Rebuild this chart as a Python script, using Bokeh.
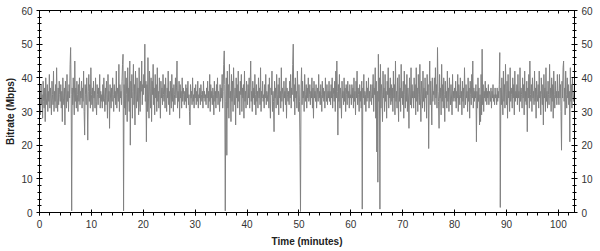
from bokeh.plotting import figure
from bokeh.models import Range1d, LinearAxis, SingleIntervalTicker, ColumnDataSource, CustomJSTickFormatter
from bokeh.embed import file_html
from bokeh.resources import INLINE

# Sampling interval of the bitrate trace (minutes); one row = 4 minutes
sample_step_min = 0.1
row_span_min = 4

# Bitrate samples (Mbps)
bitrate_rows = [
    [30, 36, 29, 38, 32, 35, 28, 39, 33, 31, 37, 27, 40, 34, 32, 38, 30, 36, 33, 41,
     31, 37, 34, 29, 39, 35, 32, 42, 30, 36, 33, 38, 31, 43, 34, 30, 37, 32, 39, 35],
    [33, 38, 31, 36, 27, 40, 34, 32, 37, 26, 39, 35, 31, 41, 33, 36, 30, 38, 34, 44,
     49, 35, 0.5, 37, 32, 40, 34, 29, 45, 33, 37, 31, 39, 35, 30, 38, 33, 40, 32, 36],
    [34, 39, 31, 37, 33, 42, 30, 23, 38, 35, 32, 40, 34, 21.5, 36, 41, 33, 38, 31, 43,
     35, 32, 37, 30, 39, 34, 36, 31, 40, 33, 29, 38, 35, 32, 37, 34, 41, 31, 36, 33],
    [35, 31, 38, 33, 40, 34, 30, 37, 32, 39, 35, 28, 41, 33, 36, 25, 38, 34, 31, 37,
     33, 40, 35, 30, 38, 34, 36, 32, 42, 31, 37, 35, 33, 44, 30, 38, 34, 36, 32, 39],
    [44, 47, 0.5, 38, 31, 42, 29, 40, 35, 27, 43, 33, 37, 30, 45, 20, 39, 34, 41, 28,
     36, 44, 32, 38, 26, 42, 35, 31, 40, 33, 37, 29, 43, 34, 30, 39, 36, 45, 32, 38],
    [35, 41, 37, 50, 33, 39, 21, 38, 30, 46, 34, 28, 42, 36, 31, 40, 27, 39, 35, 44,
     32, 37, 29, 41, 34, 38, 30, 43, 33, 36, 31, 40, 35, 28, 39, 34, 37, 32, 41, 35],
    [33, 38, 31, 40, 35, 30, 37, 34, 42, 32, 36, 29, 39, 34, 31, 41, 33, 37, 30, 38,
     35, 32, 40, 34, 37, 45, 31, 36, 33, 39, 28, 38, 34, 36, 31, 40, 33, 37, 35, 32],
    [36, 33, 38, 31, 37, 34, 39, 32, 35, 30, 26, 38, 34, 36, 32, 40, 33, 35, 31, 37,
     34, 38, 32, 36, 33, 39, 31, 35, 34, 37, 32, 38, 35, 33, 36, 31, 39, 34, 36, 33],
    [35, 32, 37, 34, 39, 31, 36, 33, 41, 30, 38, 34, 36, 32, 37, 35, 29, 39, 33, 36,
     31, 38, 34, 40, 32, 36, 35, 30, 38, 33, 37, 34, 41, 31, 36, 44, 48, 38, 0.5, 33],
    [40, 17, 42, 31, 38, 28, 44, 34, 36, 27, 41, 33, 39, 30, 43, 35, 32, 37, 26, 40,
     34, 38, 31, 42, 33, 36, 29, 39, 35, 41, 30, 37, 34, 38, 28, 42, 33, 36, 31, 39],
    [35, 32, 38, 34, 40, 31, 37, 45, 33, 36, 30, 39, 34, 37, 32, 41, 35, 29, 38, 33,
     36, 31, 40, 34, 37, 32, 43, 30, 36, 34, 39, 33, 35, 31, 38, 34, 41, 32, 36, 35],
    [33, 38, 31, 40, 34, 28, 37, 35, 42, 30, 36, 33, 24, 39, 34, 37, 31, 41, 35, 32,
     38, 29, 40, 34, 36, 31, 43, 33, 37, 35, 30, 39, 34, 36, 32, 40, 28, 37, 35, 33],
    [36, 32, 39, 34, 41, 31, 37, 35, 44, 50, 33, 38, 29, 40, 34, 36, 31, 42, 35, 30,
     38, 33, 20, 0.3, 37, 43, 32, 39, 34, 36, 30, 41, 35, 33, 38, 31, 37, 34, 40, 33],
    [35, 38, 32, 36, 34, 40, 31, 37, 28, 39, 34, 36, 33, 38, 31, 35, 37, 33, 41, 34,
     36, 32, 38, 35, 30, 39, 34, 37, 33, 36, 31, 40, 35, 33, 38, 32, 36, 34, 39, 33],
    [36, 32, 38, 34, 40, 31, 37, 35, 33, 39, 30, 42, 34, 45, 36, 23, 38, 33, 41, 31,
     37, 35, 28, 39, 34, 36, 32, 40, 33, 37, 30, 38, 35, 32, 39, 34, 36, 31, 38, 34],
    [35, 32, 38, 34, 37, 31, 40, 33, 36, 29, 39, 34, 42, 32, 37, 35, 30, 38, 33, 36,
     31, 39, 1, 37, 34, 41, 32, 36, 35, 30, 39, 33, 37, 34, 40, 31, 36, 33, 38, 35],
    [32, 38, 34, 41, 30, 37, 35, 43, 28, 39, 18, 36, 9, 47, 33, 40, 1, 44, 31, 38,
     35, 27, 42, 34, 37, 30, 41, 33, 36, 28, 39, 35, 43, 31, 37, 34, 40, 32, 38, 33],
    [37, 30, 42, 34, 38, 29, 45, 33, 36, 31, 40, 35, 27, 41, 33, 37, 30, 44, 34, 36,
     32, 39, 28, 42, 35, 31, 38, 33, 41, 30, 37, 34, 25, 40, 35, 32, 43, 31, 38, 34],
    [36, 31, 40, 34, 38, 29, 43, 33, 37, 30, 41, 35, 32, 44, 34, 27, 39, 35, 31, 42,
     33, 37, 30, 40, 34, 36, 28, 41, 35, 38, 19, 37, 45, 32, 39, 34, 26, 40, 33, 36],
    [35, 40, 32, 43, 34, 38, 31, 49, 36, 33, 25, 41, 34, 37, 29, 44, 33, 38, 31, 40,
     35, 27, 39, 34, 36, 31, 42, 33, 37, 30, 40, 35, 32, 38, 34, 29, 41, 33, 36, 34],
    [37, 33, 39, 31, 36, 34, 41, 30, 38, 35, 32, 40, 34, 36, 29, 39, 33, 37, 31, 43,
     35, 32, 38, 34, 36, 30, 40, 33, 37, 28, 39, 35, 32, 41, 34, 45, 31, 37, 33, 36],
    [34, 38, 21, 36, 31, 40, 33, 37, 26, 35, 27, 41, 29, 48.5, 32, 38, 30, 36, 34, 39,
     33, 37, 32, 36, 34, 38, 32, 36, 35, 33, 37, 31, 36, 34, 38, 33, 35, 32, 37, 34],
    [35, 32, 37, 33, 36, 34, 38, 47.5, 1.5, 37, 32, 40, 34, 29, 42, 33, 38, 31, 44, 35,
     32, 39, 28, 41, 34, 36, 30, 43, 33, 37, 35, 31, 40, 34, 38, 29, 42, 33, 36, 34],
    [38, 32, 41, 34, 36, 30, 43, 33, 37, 35, 31, 40, 34, 38, 29, 42, 33, 36, 32, 39,
     24, 37, 34, 41, 31, 45, 35, 33, 38, 30, 40, 34, 36, 32, 42, 33, 37, 28, 39, 35],
    [33, 38, 31, 42, 34, 36, 29, 40, 35, 32, 38, 26, 41, 34, 37, 30, 43, 33, 36, 31,
     39, 35, 32, 44, 34, 37, 30, 40, 33, 38, 28, 42, 35, 31, 39, 34, 36, 32, 41, 34],
    [36, 32, 41, 34, 38, 30, 18.5, 39, 34, 43, 45, 33, 37, 29, 42, 35, 31, 40, 34, 38,
     32, 36, 21, 43, 33, 38, 31, 40, 35, 33, 36],
]

x_axis_label = "Time (minutes)"
y_axis_label = "Bitrate (Mbps)"
x_max = 103.1
y_max = 60

time_min, bitrate = [], []
for r, row in enumerate(bitrate_rows):
    for k, v in enumerate(row):
        time_min.append(r * row_span_min + k * sample_step_min)
        bitrate.append(v)
source = ColumnDataSource(data=dict(t=time_min, mbps=bitrate))

FONT = "Liberation Sans"
TXT = "#333333"

p = figure(width=600, height=251, output_backend="svg", toolbar_location=None,
           x_range=Range1d(0, x_max), y_range=Range1d(0, y_max),
           min_border_left=39, min_border_right=26, min_border_top=10, min_border_bottom=39)
p.outline_line_color = None
p.xgrid.grid_line_color = None
p.ygrid.grid_line_color = None
p.background_fill_color = "white"
p.border_fill_color = "white"

p.line("t", "mbps", source=source, line_color="#808080", line_width=1)

def style(ax):
    ax.axis_line_color = "black"
    ax.major_tick_line_color = "black"
    ax.minor_tick_line_color = "black"
    ax.major_label_text_font = FONT
    ax.major_label_text_font_size = "10px"
    ax.major_label_text_color = TXT
    ax.axis_label_text_font = FONT
    ax.axis_label_text_font_size = "10px"
    ax.axis_label_text_font_style = "bold"
    ax.axis_label_text_color = "#222222"

xa = p.xaxis[0]
xa.ticker = SingleIntervalTicker(interval=10, num_minor_ticks=5)
style(xa)
xa.axis_label = x_axis_label
xa.major_tick_in = 3
xa.major_tick_out = 3
xa.minor_tick_in = 0
xa.minor_tick_out = 3
xa.major_label_standoff = 4
xa.axis_label_standoff = 5

ya = p.yaxis[0]
ya.ticker = SingleIntervalTicker(interval=10, num_minor_ticks=5)
style(ya)
ya.axis_label = y_axis_label
ya.major_tick_in = 3
ya.major_tick_out = 3
ya.minor_tick_in = 2
ya.minor_tick_out = 2
ya.major_label_standoff = 4
ya.axis_label_standoff = 2

ra = LinearAxis(ticker=SingleIntervalTicker(interval=10, num_minor_ticks=5))
style(ra)
ra.major_tick_in = 3
ra.major_tick_out = 3
ra.minor_tick_in = 2
ra.minor_tick_out = 2
ra.major_label_standoff = 4
p.add_layout(ra, "right")

ta = LinearAxis(ticker=SingleIntervalTicker(interval=10, num_minor_ticks=5))
style(ta)
ta.major_tick_in = 3
ta.major_tick_out = 0
ta.minor_tick_in = 2
ta.minor_tick_out = 0
ta.formatter = CustomJSTickFormatter(code="return ''")
ta.major_label_text_font_size = "0px"
ta.major_label_standoff = 0
p.add_layout(ta, "above")

open("out.html", "w").write(file_html(p, INLINE))
